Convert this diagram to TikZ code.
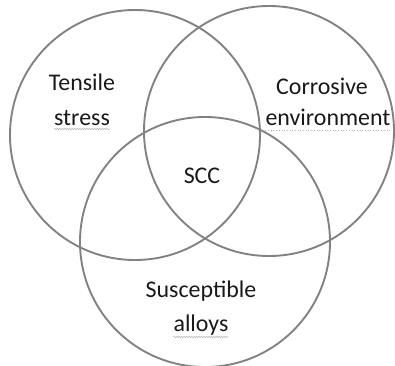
\documentclass[tikz,border=0pt]{standalone}
\usepackage{fontspec}
\setmainfont{Carlito}
\usetikzlibrary{positioning, decorations.pathmorphing}
\definecolor{ringgray}{RGB}{130,130,130}

\begin{document}
\begin{tikzpicture}[
      x=1bp, y=-1bp,
      ring/.style={circle, draw=ringgray, line width=1.9bp, minimum size=250bp, inner sep=0pt},
      lab/.style={font=\fontsize{24}{29}\selectfont, text=black!90, inner sep=0pt, anchor=base},
      squig/.style={draw=gray!60, line width=0.5bp, decorate, decoration={snake, amplitude=0.7bp, segment length=2.5bp}},
      dots/.style={draw=gray!60, line width=0.7bp, dotted}
    ]
    \useasboundingbox (0,0) rectangle (395,366);

    % THE THREE SETS
    \node[ring] (tensile) at (135,135) {};
    \node[ring] (corrosive) at (269,131) {};
    \node[ring] (alloys) at (205,242) {};

    % LABELS
    \node[lab] (tens1) at (82,90) {Tensile};
    \node[lab] (tens2) at (82,125) {stress};
    \node[lab] (corr1) at (322,94) {Corrosive};
    \node[lab] (corr2) at (328,125) {environment};
    \node[lab] (scc) at (202,183) {SCC};
    \node[lab] (alloy1) at (201,297) {Susceptible};
    \node[lab] (alloy2) at (201,331) {alloys};

    %%% SPELL-CHECK MARKS
    \draw[squig] ([yshift=-4bp]tens2.base west) -- ([yshift=-4bp]tens2.base east);
    \draw[dots] ([yshift=-5bp]corr2.base west) -- ([yshift=-5bp]corr2.base east);
    \draw[squig] ([yshift=-6bp]alloy2.base west) -- ([yshift=-6bp]alloy2.base east);
\end{tikzpicture}
\end{document}
